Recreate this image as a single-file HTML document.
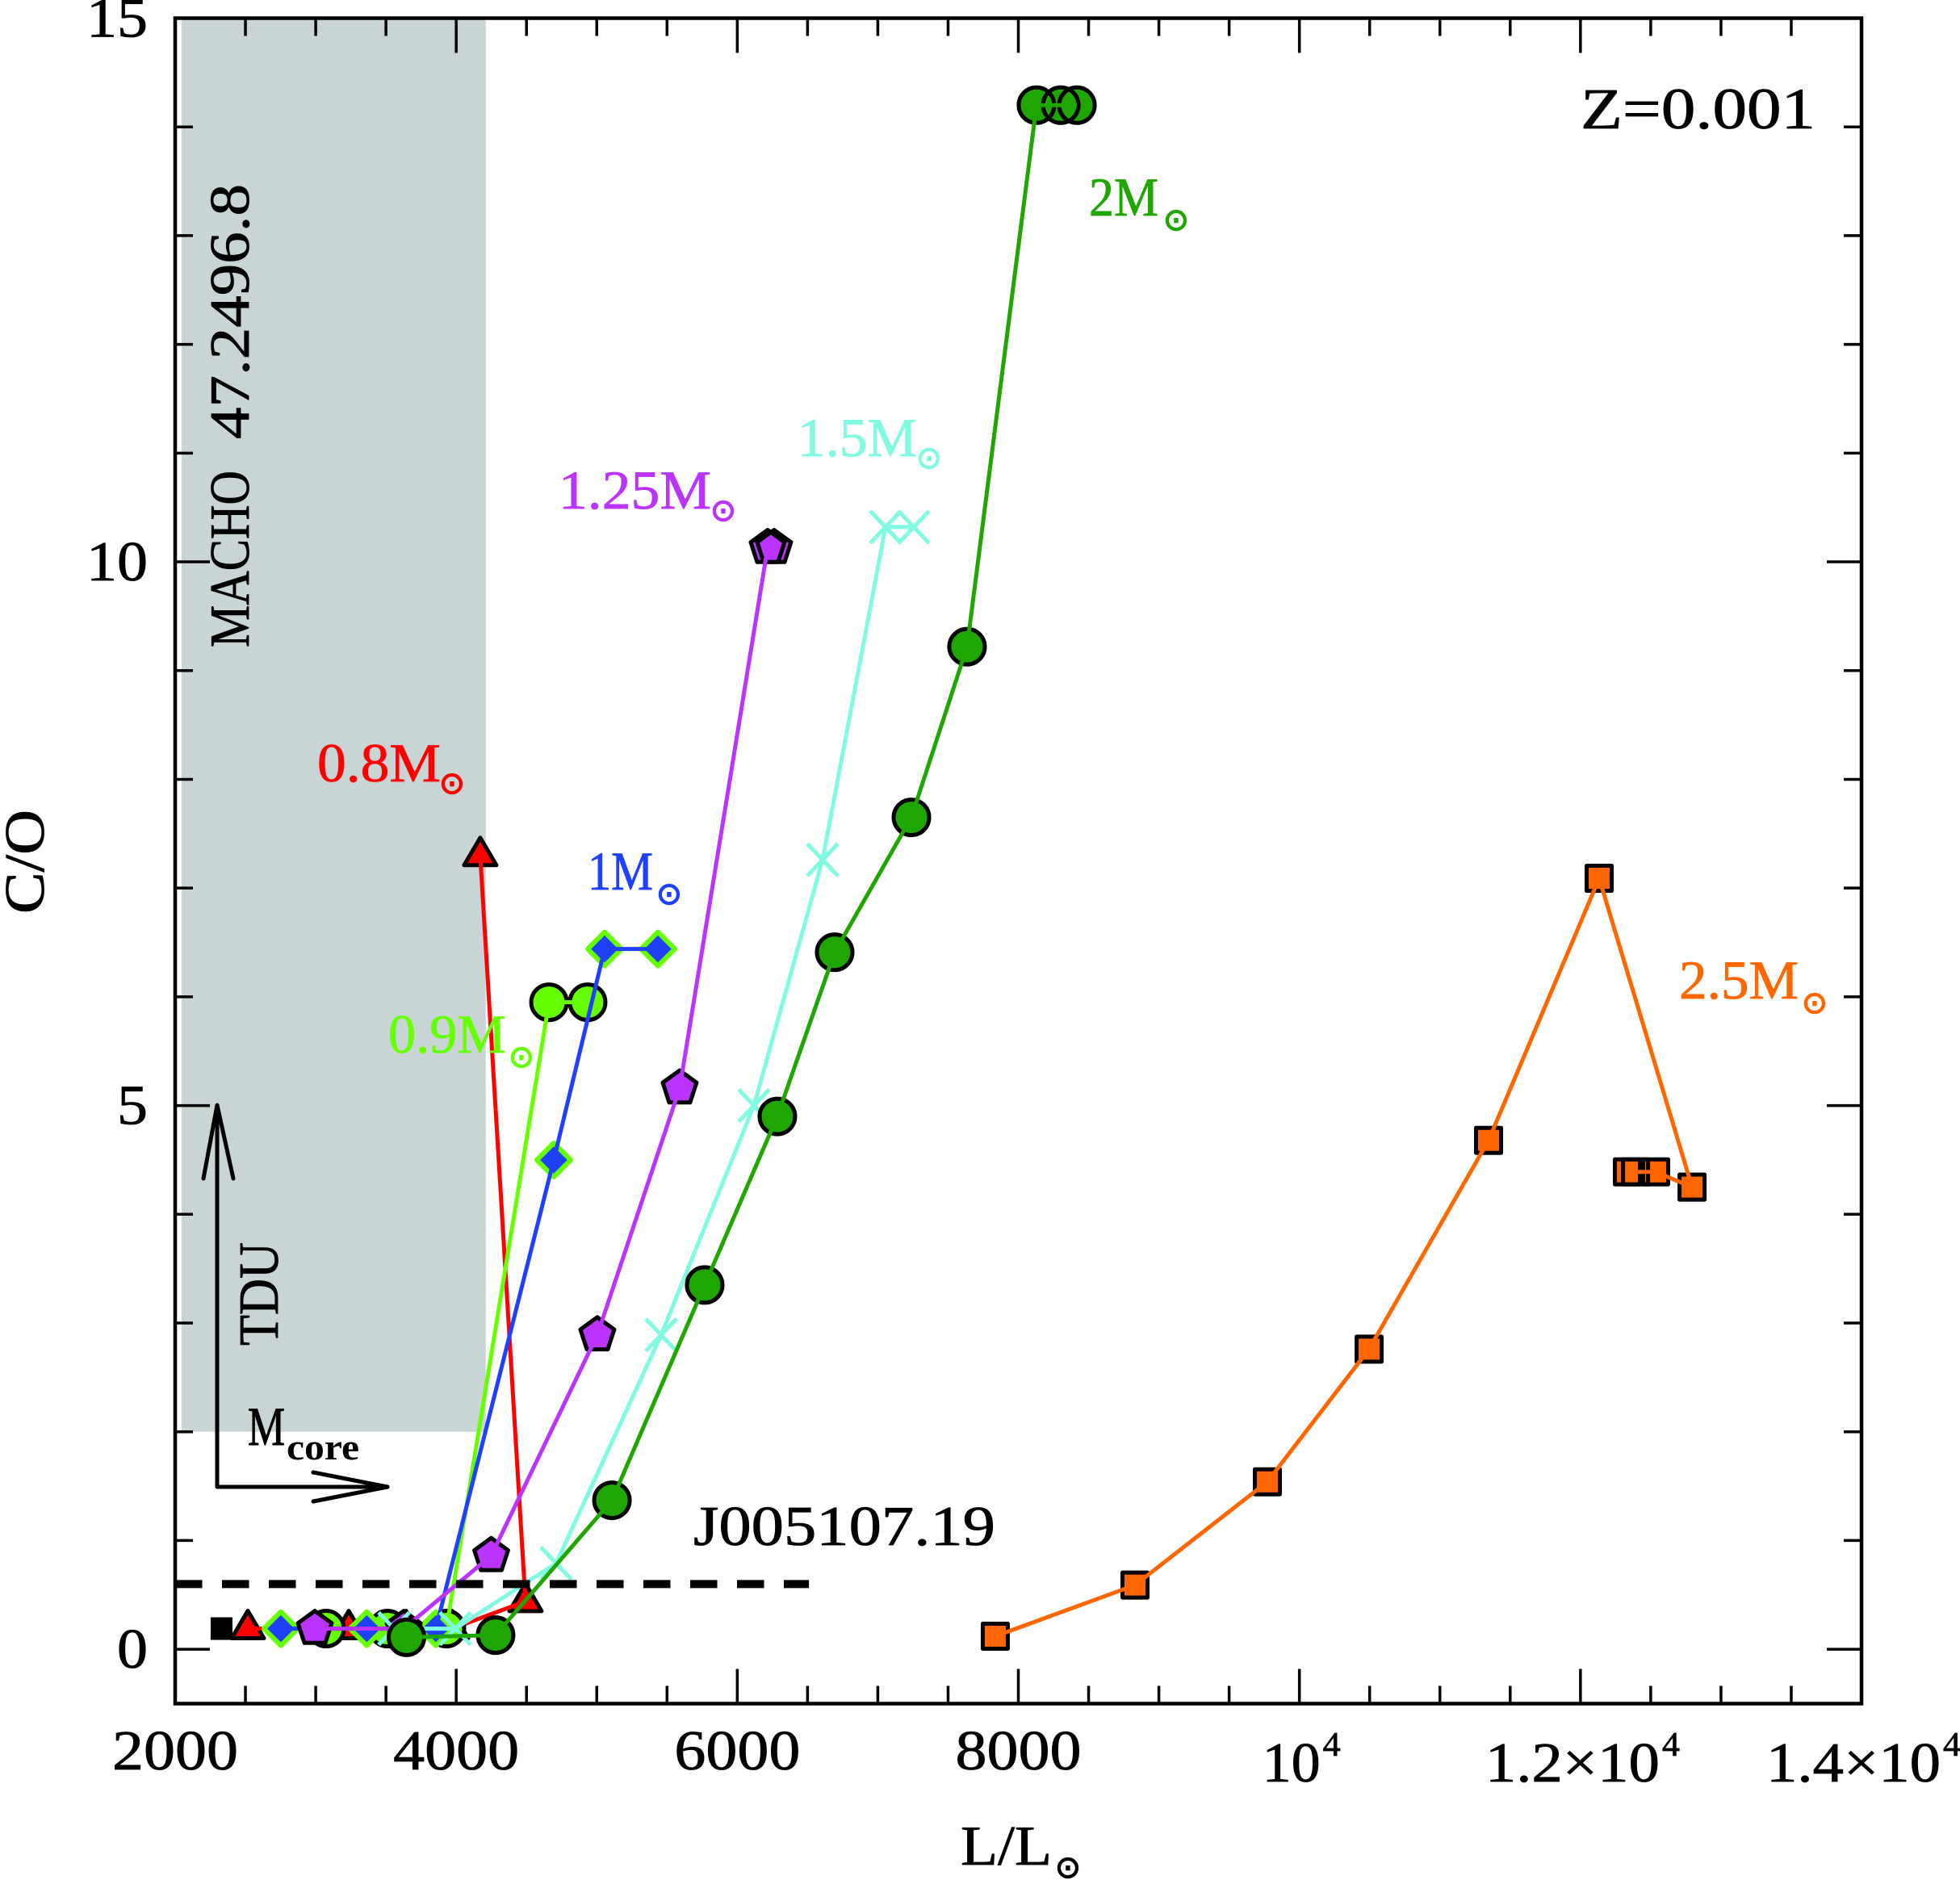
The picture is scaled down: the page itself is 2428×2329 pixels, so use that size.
<!DOCTYPE html>
<html lang="en">
<head>
<meta charset="utf-8">
<title>C/O vs L/Lsun, Z=0.001</title>
<style>
html,body{margin:0;padding:0;background:#fff;}
svg{display:block;}
text{font-family:"Liberation Serif","DejaVu Serif",serif;}
.sun{font-family:"DejaVu Sans","Liberation Sans",sans-serif;font-size:38px;stroke-width:1.5px;}
</style>
</head>
<body>
<svg id="chart" xmlns="http://www.w3.org/2000/svg" width="2428" height="2329" viewBox="0 0 2428 2329">
  <rect x="0" y="0" width="2428" height="2329" fill="#ffffff"/>
  <rect id="band" fill="#c9d5d5"/>
  <g id="marks"></g>
  <g id="axes"></g>

  <g>
    <text transform="translate(308,802) rotate(-90)" font-size="70" textLength="219" lengthAdjust="spacingAndGlyphs" fill="#000" stroke="#000" stroke-width="0.8">MACHO</text>
    <text transform="translate(308,544) rotate(-90)" font-size="70" textLength="316" lengthAdjust="spacingAndGlyphs" fill="#000" stroke="#000" stroke-width="0.8">47.2496.8</text>
    <text transform="translate(344,1667) rotate(-90)" font-size="70" textLength="128" lengthAdjust="spacingAndGlyphs" fill="#000" stroke="#000" stroke-width="0.8">TDU</text>
    <text x="307" y="1790" font-size="68" textLength="46" lengthAdjust="spacingAndGlyphs" fill="#000" stroke="#000" stroke-width="1">M</text>
    <text x="355" y="1808" font-size="45" font-weight="bold" textLength="90" lengthAdjust="spacingAndGlyphs" fill="#000">core</text>
    <text x="859" y="1914" font-size="70" textLength="374" lengthAdjust="spacingAndGlyphs" fill="#000" stroke="#000" stroke-width="0.8">J005107.19</text>
    <text x="1958" y="159" font-size="72" textLength="291" lengthAdjust="spacingAndGlyphs" fill="#000" stroke="#000" stroke-width="0.8">Z=0.001</text>

    <text x="393" y="968" font-size="68" textLength="153" lengthAdjust="spacingAndGlyphs" fill="#ff0000" stroke="#ff0000" stroke-width="0.8">0.8M</text>
    <text class="sun" x="544" y="983" fill="#ff0000" stroke="#ff0000">⊙</text>
    <text x="481" y="1304" font-size="68" textLength="146" lengthAdjust="spacingAndGlyphs" fill="#66ff00" stroke="#66ff00" stroke-width="0.8">0.9M</text>
    <text class="sun" x="630" y="1322" fill="#66ff00" stroke="#66ff00">⊙</text>
    <text x="728" y="1102" font-size="68" textLength="81" lengthAdjust="spacingAndGlyphs" fill="#2040ff" stroke="#2040ff" stroke-width="0.8">1M</text>
    <text class="sun" x="813" y="1120" fill="#2040ff" stroke="#2040ff">⊙</text>
    <text x="692" y="630" font-size="68" textLength="189" lengthAdjust="spacingAndGlyphs" fill="#bb33ff" stroke="#bb33ff" stroke-width="0.8">1.25M</text>
    <text class="sun" x="880" y="645" fill="#bb33ff" stroke="#bb33ff">⊙</text>
    <text x="988" y="565" font-size="68" textLength="148" lengthAdjust="spacingAndGlyphs" fill="#80fbe2" stroke="#80fbe2" stroke-width="0.8">1.5M</text>
    <text class="sun" x="1135" y="580" fill="#80fbe2" stroke="#80fbe2">⊙</text>
    <text x="1349" y="267" font-size="68" textLength="86" lengthAdjust="spacingAndGlyphs" fill="#1fa600" stroke="#1fa600" stroke-width="0.8">2M</text>
    <text class="sun" x="1441" y="285" fill="#1fa600" stroke="#1fa600">⊙</text>
    <text x="2080" y="1237" font-size="68" textLength="148" lengthAdjust="spacingAndGlyphs" fill="#ff6600" stroke="#ff6600" stroke-width="0.8">2.5M</text>
    <text class="sun" x="2232" y="1255" fill="#ff6600" stroke="#ff6600">⊙</text>

    <text transform="translate(54,1132) rotate(-90)" font-size="70" textLength="129" lengthAdjust="spacingAndGlyphs" fill="#000" stroke="#000" stroke-width="0.8">C/O</text>
    <text x="1190" y="2310" font-size="70" textLength="113" lengthAdjust="spacingAndGlyphs" fill="#000" stroke="#000" stroke-width="0.8">L/L</text>
    <text class="sun" x="1307" y="2326" fill="#000" stroke="#000">⊙</text>

    <g fill="none" stroke="#000" stroke-width="5" stroke-linejoin="round" stroke-linecap="round">
      <path d="M269 1841 L269 1370"/>
      <path d="M252 1460 L269 1369 L289 1460"/>
    </g>
    <g fill="none" stroke="#000" stroke-width="5" stroke-linejoin="round" stroke-linecap="round">
      <path d="M269 1842 L480 1842"/>
      <path d="M388 1824 L480 1842 L388 1860"/>
    </g>
  </g>
</svg>
<script>
/* ---------- chart data ---------- */
const xDomain = [2000, 14000];
const yDomain = [-0.5, 15];
const xMajorTicks = [2000, 4000, 6000, 8000, 10000, 12000, 14000];
const xMinorTicks = [2500, 3000, 3500, 4500, 5000, 5500, 6500, 7000, 7500, 8500, 9000, 9500, 10500, 11000, 11500, 12500, 13000, 13500];
const yMajorTicks = [0, 5, 10, 15];
const yMinorTicks = [1, 2, 3, 4, 6, 7, 8, 9, 11, 12, 13, 14];
const xPlainTickLabels = ["2000", "4000", "6000", "8000"];
const xPlainTickValues = [2000, 4000, 6000, 8000];
const xPowerTickPrefixes = ["10", "1.2×10", "1.4×10"];
const xPowerTickValues = [10000, 12000, 14000];
const yTickLabels = ["0", "5", "10", "15"];

const bandLuminosity = [2045, 4210];
const bandCO = [2, 15];
const dashedLuminosity = [2000, 6510];
const dashedCO = [0.6, 0.6];

const blackSquareL = [2330];
const blackSquareCO = [0.19];

const m08L = [2517, 3235, 3643, 3970, 4493, 4171];
const m08CO = [0.19, 0.19, 0.19, 0.19, 0.44, 7.30];

const m09L = [3074, 3511, 3930, 4660, 4935];
const m09CO = [0.19, 0.19, 0.19, 5.95, 5.95];

const m10L = [2752, 3364, 3855, 4694, 5056, 5435];
const m10CO = [0.19, 0.19, 0.19, 4.50, 6.44, 6.44];

const m125L = [2994, 3626, 4249, 5004, 5590, 6216, 6262];
const m125CO = [0.19, 0.19, 0.86, 2.89, 5.16, 10.13, 10.13];

const m15L = [3557, 3993, 4711, 5458, 6119, 6607, 7055, 7256];
const m15CO = [0.19, 0.19, 0.79, 2.89, 5.00, 7.26, 10.32, 10.32];

const m20L = [3646, 4280, 5108, 5768, 6285, 6693, 7239, 7635, 8129, 8302, 8417];
const m20CO = [0.11, 0.13, 1.37, 3.35, 4.90, 6.41, 7.65, 9.22, 14.20, 14.20, 14.20];

const m25L = [7836, 8830, 9772, 10496, 11346, 12133, 12794, 12535, 12392, 12334];
const m25CO = [0.12, 0.59, 1.54, 2.76, 4.68, 7.09, 4.25, 4.39, 4.39, 4.39];

/* ---------- axis functions ---------- */
const plotLeft = 217, plotRight = 2306, plotTop = 22.5, plotBottom = 2110.5;
function xScale(v) { return plotLeft + (v - xDomain[0]) / (xDomain[1] - xDomain[0]) * (plotRight - plotLeft); }
function yScale(v) { return plotBottom - (v - yDomain[0]) / (yDomain[1] - yDomain[0]) * (plotBottom - plotTop); }

const NS = "http://www.w3.org/2000/svg";
const marks = document.getElementById("marks");
const axes = document.getElementById("axes");

function el(tag, attrs, parent) {
  const e = document.createElementNS(NS, tag);
  for (const k in attrs) e.setAttribute(k, attrs[k]);
  parent.appendChild(e);
  return e;
}

/* ---------- shaded region ---------- */
const band = document.getElementById("band");
band.setAttribute("x", xScale(bandLuminosity[0]));
band.setAttribute("width", xScale(bandLuminosity[1]) - xScale(bandLuminosity[0]));
band.setAttribute("y", yScale(bandCO[1]));
band.setAttribute("height", yScale(bandCO[0]) - yScale(bandCO[1]));

/* ---------- marker drawing ---------- */
function polygonPoints(cx, cy, radius, sides) {
  const pts = [];
  for (let i = 0; i < sides; i++) {
    const a = -Math.PI / 2 + i * 2 * Math.PI / sides;
    pts.push((cx + radius * Math.cos(a)).toFixed(1) + "," + (cy + radius * Math.sin(a)).toFixed(1));
  }
  return pts.join(" ");
}

function drawMarker(kind, cx, cy, fill, edge, parent) {
  let m;
  if (kind === "circle") {
    m = el("circle", { cx: cx, cy: cy, r: 22, fill: fill, stroke: edge, "stroke-width": 5 }, parent);
  } else if (kind === "triangle") {
    m = el("polygon", { points: cx + "," + (cy - 22) + " " + (cx - 20) + "," + (cy + 12) + " " + (cx + 20) + "," + (cy + 12), fill: fill, stroke: edge, "stroke-width": 5, "stroke-linejoin": "round" }, parent);
  } else if (kind === "diamond") {
    m = el("polygon", { points: polygonPoints(cx, cy, 21, 4), fill: fill, stroke: edge, "stroke-width": 6, "stroke-linejoin": "round" }, parent);
  } else if (kind === "pentagon") {
    m = el("polygon", { points: polygonPoints(cx, cy, 22, 5), fill: fill, stroke: edge, "stroke-width": 5, "stroke-linejoin": "round" }, parent);
  } else if (kind === "square") {
    m = el("rect", { x: cx - 15.5, y: cy - 15.5, width: 31, height: 31, fill: fill, stroke: edge, "stroke-width": 5, "stroke-linejoin": "round" }, parent);
  } else if (kind === "cross") {
    m = el("path", { d: "M" + (cx - 19) + " " + (cy - 20) + " L" + (cx + 19) + " " + (cy + 20) + " M" + (cx - 19) + " " + (cy + 20) + " L" + (cx + 19) + " " + (cy - 20), fill: "none", stroke: edge, "stroke-width": 5 }, parent);
  }
  return m;
}

function drawSeries(name, xs, ys, color, kind, fill, edge) {
  const g = el("g", {}, marks);
  
  
  /* fills first, then every outline on top, so overlapping outlines stay visible */
  if (fill !== "none") {
    xs.forEach(function (v, i) {
      const f = drawMarker(kind, xScale(v), yScale(ys[i]), fill, "none", g);
      
      
    });
  }
  xs.forEach(function (v, i) {
    const m = drawMarker(kind, xScale(v), yScale(ys[i]), "none", edge, g);
    
    
  });
  const pts = xs.map(function (v, i) { return xScale(v).toFixed(1) + "," + yScale(ys[i]).toFixed(1); }).join(" ");
  const line = el("polyline", { points: pts, fill: "none", stroke: color, "stroke-width": 5, "stroke-linejoin": "round" }, g);
  
  
}

/* black reference square */
const blackMark = el("rect", { x: xScale(blackSquareL[0]) - 13.5, y: yScale(blackSquareCO[0]) - 14, width: 27, height: 28, fill: "#000" }, marks);



drawSeries("mass-0-8", m08L, m08CO, "#ff0000", "triangle", "#ff0000", "#000");
drawSeries("mass-0-9", m09L, m09CO, "#66ff00", "circle", "#66ff00", "#000");
drawSeries("mass-1-0", m10L, m10CO, "#2040ff", "diamond", "#2040ff", "#66ff00");
drawSeries("mass-1-25", m125L, m125CO, "#bb33ff", "pentagon", "#bb33ff", "#000");
drawSeries("mass-1-5", m15L, m15CO, "#80fbe2", "cross", "none", "#80fbe2");
drawSeries("mass-2-0", m20L, m20CO, "#1fa600", "circle", "#1fa600", "#000");
drawSeries("mass-2-5", m25L, m25CO, "#ff6600", "square", "#ff6600", "#000");

/* dashed reference line */
const dashed = el("line", { x1: xScale(dashedLuminosity[0]), x2: xScale(dashedLuminosity[1]), y1: yScale(dashedCO[0]), y2: yScale(dashedCO[1]), stroke: "#000", "stroke-width": 10, "stroke-dasharray": "33.5 24.5" }, marks);



/* ---------- axes ---------- */
const frame = el("rect", { x: plotLeft, y: plotTop, width: plotRight - plotLeft, height: plotBottom - plotTop, fill: "none", stroke: "#000", "stroke-width": 4.5 }, axes);



function tick(x1, y1, x2, y2, name) {
  const t = el("line", { x1: x1, y1: y1, x2: x2, y2: y2, stroke: "#000", "stroke-width": 3.5 }, axes);
  
  
}
const majorLen = 43, minorLen = 22;
xMajorTicks.forEach(function (v) {
  tick(xScale(v), plotBottom, xScale(v), plotBottom - majorLen, 'x-major-tick');
  tick(xScale(v), plotTop, xScale(v), plotTop + majorLen, 'x-major-tick-top');
});
xMinorTicks.forEach(function (v) {
  tick(xScale(v), plotBottom, xScale(v), plotBottom - minorLen, 'x-minor-tick');
  tick(xScale(v), plotTop, xScale(v), plotTop + minorLen, 'x-minor-tick-top');
});
yMajorTicks.forEach(function (v) {
  tick(plotLeft, yScale(v), plotLeft + majorLen, yScale(v), 'y-major-tick');
  tick(plotRight, yScale(v), plotRight - majorLen, yScale(v), 'y-major-tick-right');
});
yMinorTicks.forEach(function (v) {
  tick(plotLeft, yScale(v), plotLeft + minorLen, yScale(v), 'y-minor-tick');
  tick(plotRight, yScale(v), plotRight - minorLen, yScale(v), 'y-minor-tick-right');
});

function label(str, attrs, name) {
  const t = el("text", attrs, axes);
  t.textContent = str;
  
  
  return t;
}
xPlainTickLabels.forEach(function (s, i) {
  label(s, { x: xScale(xPlainTickValues[i]) - 78, y: 2192, "font-size": 70, textLength: 156, lengthAdjust: "spacingAndGlyphs", fill: "#000", stroke: "#000", "stroke-width": 0.8 }, 'x-tick-label');
});
xPowerTickPrefixes.forEach(function (s, i) {
  const cx = xScale(xPowerTickValues[i]);
  const w = s.length > 2 ? 216 : 72;
  const left = s.length > 2 ? cx - 118 : cx - 46;
  label(s, { x: left, y: 2207, "font-size": 70, textLength: w, lengthAdjust: "spacingAndGlyphs", fill: "#000", stroke: "#000", "stroke-width": 0.8 }, 'x-tick-label');
  label("4", { x: left + w + 3, y: 2175, "font-size": 42, textLength: 22, lengthAdjust: "spacingAndGlyphs", fill: "#000", stroke: "#000", "stroke-width": 0.8 }, 'x-tick-exponent');
});
yTickLabels.forEach(function (s, i) {
  const w = s.length > 1 ? 76 : 38;
  label(s, { x: 183 - w, y: yScale(yMajorTicks[i]) + 23, "font-size": 70, textLength: w, lengthAdjust: "spacingAndGlyphs", fill: "#000", stroke: "#000", "stroke-width": 0.8 }, 'y-tick-label');
});
</script>
</body>
</html>
